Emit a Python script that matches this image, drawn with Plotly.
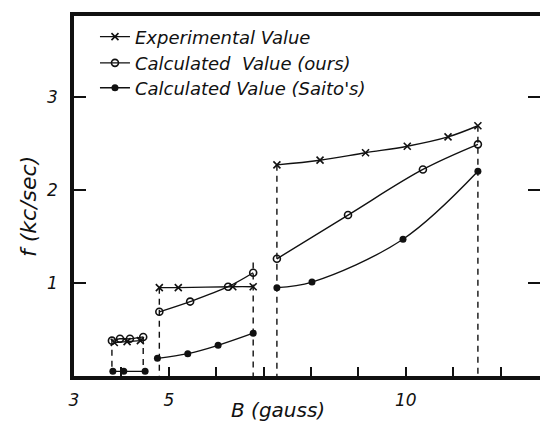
import plotly.graph_objects as go

# Experimental value (x marks); None separates the three field regions
exp_B = [3.85, 4.12, 4.40, None, 4.80, 5.20, 6.35, 6.78, None, 7.28, 8.19, 9.15, 10.03, 10.89, 11.52]
exp_f = [0.36, 0.37, 0.38, None, 0.95, 0.95, 0.96, 0.96, None, 2.27, 2.32, 2.40, 2.47, 2.57, 2.69]

# Calculated value (ours) - open circles
ours_B = [3.80, 3.97, 4.18, 4.46, None, 4.80, 5.45, 6.25, 6.78, None, 7.28, 8.78, 10.36, 11.52]
ours_f = [0.38, 0.40, 0.40, 0.42, None, 0.69, 0.80, 0.96, 1.11, None, 1.26, 1.73, 2.22, 2.49]

# Calculated value (Saito's) - filled circles
saito_B = [3.82, 4.05, 4.50, None, 4.76, 5.40, 6.04, 6.78, None, 7.28, 8.02, 9.94, 11.52]
saito_f = [0.05, 0.05, 0.05, None, 0.19, 0.24, 0.33, 0.46, None, 0.95, 1.01, 1.47, 2.20]

# Region boundaries (dashed drop lines)
drop_B = [3.80, 4.46, 4.80, 6.78, 7.28, 11.52]
drop_top = [0.40, 0.42, 0.95, 1.22, 2.27, 2.69]
drop_bot = [0.05, 0.05, 0.0, 0.0, 0.0, 0.0]

x_ticks = [3, 4, 5, 6, 7, 8, 9, 10, 11, 12]
x_ticktext = ["3", "", "5", "", "", "", "", "10", "", ""]
y_ticks = [1, 2, 3]
y_ticktext = ["1", "2", "3"]

FONT = "DejaVu Sans"
ink = "#111"

fig = go.Figure()

dx, dy = [], []
for b, t, lo in zip(drop_B, drop_top, drop_bot):
    dx += [b, b, None]
    dy += [t, lo, None]
fig.add_trace(go.Scatter(x=dx, y=dy, mode="lines", showlegend=False,
                         line=dict(color=ink, width=1.4, dash="6px,5px"), hoverinfo="skip"))

fig.add_trace(go.Scatter(x=exp_B, y=exp_f, mode="lines+markers", name="Experimental Value",
                         line=dict(color=ink, width=1.4, shape="spline"),
                         marker=dict(symbol="x-thin", size=7, line=dict(color=ink, width=1.6)),
                         legend="legend"))
fig.add_trace(go.Scatter(x=ours_B, y=ours_f, mode="lines+markers", name="Calculated  Value (ours)",
                         line=dict(color=ink, width=1.4, shape="spline"),
                         marker=dict(symbol="circle-open", size=7, color=ink, line=dict(color=ink, width=1.6)),
                         legend="legend2"))
fig.add_trace(go.Scatter(x=saito_B, y=saito_f, mode="lines+markers", name="Calculated Value (Saito's)",
                         line=dict(color=ink, width=1.4, shape="spline"),
                         marker=dict(symbol="circle", size=7, color=ink),
                         legend="legend3"))

leg_common = dict(x=0.045, xanchor="left", yanchor="middle", bgcolor="rgba(0,0,0,0)",
                  font=dict(family=FONT, size=18, color=ink, style="italic"),
                  itemwidth=30, borderwidth=0)

fig.update_layout(
    width=540, height=424,
    margin=dict(l=74, r=0, t=16, b=48, autoexpand=False),
    paper_bgcolor="white", plot_bgcolor="white",
    font=dict(family=FONT, color=ink, style="italic"),
    legend=dict(y=0.942, **leg_common),
    legend2=dict(y=0.869, **leg_common),
    legend3=dict(y=0.800, **leg_common),
    xaxis=dict(range=[3, 12.83], tickvals=x_ticks, ticktext=x_ticktext,
               ticks="inside", ticklen=9, tickwidth=1.5, tickcolor=ink,
               showline=True, linewidth=3.5, linecolor=ink, mirror=True,
               showgrid=False, zeroline=False, ticklabelstandoff=6,
               tickfont=dict(family=FONT, size=17, color=ink, style="italic")),
    yaxis=dict(range=[0, 3.87], tickvals=y_ticks, ticktext=y_ticktext,
               ticks="inside", ticklen=12, tickwidth=1.5, tickcolor=ink,
               showline=True, linewidth=3.5, linecolor=ink, mirror="ticks",
               showgrid=False, zeroline=False, ticklabelstandoff=9,
               tickfont=dict(family=FONT, size=17, color=ink, style="italic")),
    annotations=[
        dict(text="B (gauss)", x=278, y=410, xref="paper", yref="paper", showarrow=False,
             xanchor="center", yanchor="middle",
             font=dict(family=FONT, size=20, color=ink, style="italic")),
        dict(text="f (kc/sec)", x=28, y=207, xref="paper", yref="paper", showarrow=False,
             xanchor="center", yanchor="middle",
             textangle=-90, font=dict(family=FONT, size=22, color=ink, style="italic")),
    ],
)

# convert pixel-placed annotations to paper coords
pw, ph = 540 - 74 - 0, 424 - 16 - 48
for a in fig.layout.annotations:
    a.x = (a.x - 74) / pw
    a.y = (376 - a.y) / ph

fig.write_html("out.html", config={"displayModeBar": False},
               post_script="document.body.style.margin='0px';")
